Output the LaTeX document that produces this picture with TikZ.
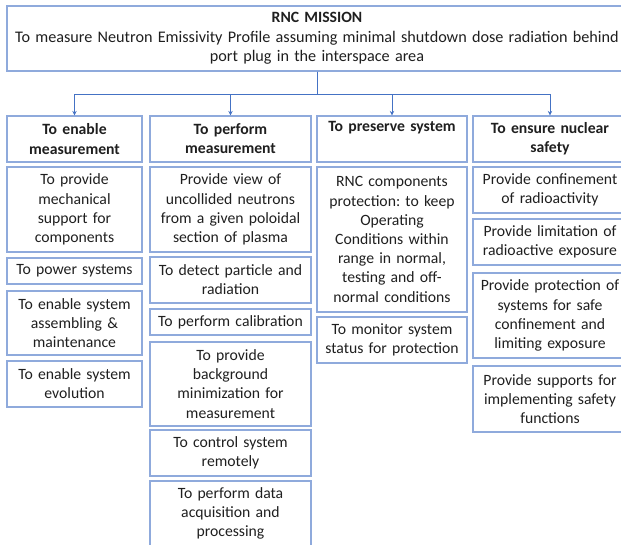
\documentclass[tikz,border=0pt]{standalone}
\usepackage{fontspec}
\setmainfont{Carlito}
\frenchspacing
\usetikzlibrary{arrows.meta}
\definecolor{boxblue}{HTML}{8FAADC}
\definecolor{linkblue}{HTML}{4472C4}
\begin{document}
\begin{tikzpicture}[x=1pt,y=-1pt,font=\fontsize{15.7}{19.2}\selectfont,
box/.style={draw=boxblue,line width=1.2pt,align=center,inner sep=1pt,text=black!88},
ca/.style={box,minimum width=135pt,text width=133pt},
cb/.style={box,minimum width=161pt,text width=159pt},
cc/.style={box,minimum width=150pt,text width=148pt},
cd/.style={box,minimum width=154pt,text width=152pt},
head/.style={font=\fontsize{15.7}{19.2}\selectfont\bfseries,minimum height=46pt},
link/.style={draw=linkblue,line width=0.8pt,-{Stealth[length=4.5pt,width=4.5pt]}}]

\useasboundingbox (0,0) rectangle (621,545);

\node[box,minimum width=620pt,text width=616pt,minimum height=65pt] (mission) at (317,38.5)
{\textbf{RNC MISSION}\\\fontsize{16.2}{19.8}\selectfont To measure Neutron Emissivity Profile assuming minimal shutdown dose radiation behind\\port plug in the interspace area};

\node[ca,head] (h1) at (74.5,139) {To enable\\measurement};
\node[cb,head] (h2) at (230.5,139) {To perform\\measurement};
\node[cc,head] (h3) at (392,139) {To preserve system\\\strut};
\node[cd,head] (h4) at (550,139) {To ensure nuclear\\safety};

\foreach \h in {h1,h2,h3,h4}
\draw[link] (mission.south) -- ++(0,23) -| (\h.north);

% first column
\node[ca,minimum height=85pt] (a1) at (74.5,209.5) {To provide\\mechanical\\support for\\components};
\node[ca,minimum height=26pt] (a2) at (74.5,271) {To power systems};
\node[ca,minimum height=64pt] (a3) at (74.5,323) {To enable system\\assembling \&\\maintenance};
\node[ca,minimum height=46pt] (a4) at (74.5,384) {To enable system\\evolution};

% second column
\node[cb,minimum height=85pt] (b1) at (230.5,209.5) {Provide view of\\uncollided neutrons\\from a given poloidal\\section of plasma};
\node[cb,minimum height=46pt] (b2) at (230.5,280) {To detect particle and\\radiation};
\node[cb,minimum height=26pt] (b3) at (230.5,322) {To perform calibration};
\node[cb,minimum height=84pt] (b4) at (230.5,384) {To provide\\background\\minimization for\\measurement};
\node[cb,minimum height=46pt] (b5) at (230.5,453) {To control system\\remotely};
\node[cb,minimum height=65pt] (b6) at (230.5,513.5) {To perform data\\acquisition and\\processing};

% third column
\node[cc,minimum height=145pt] (c1) at (392,239.5) {RNC components\\protection: to keep\\Operating\\Conditions within\\range in normal,\\testing and off-\\normal conditions};
\node[cc,minimum height=46pt] (c2) at (392,340) {To monitor system\\status for protection};

% fourth column
\node[cd,minimum height=46pt] (d1) at (550,190) {Provide confinement\\of radioactivity};
\node[cd,minimum height=46pt] (d2) at (550,242) {Provide limitation of\\radioactive exposure};
\node[cd,minimum height=85pt] (d3) at (550,315.5) {Provide protection of\\systems for safe\\confinement and\\limiting exposure};
\node[cd,minimum height=66pt] (d4) at (550,399) {Provide supports for\\implementing safety\\functions};
\end{tikzpicture}
\end{document}
